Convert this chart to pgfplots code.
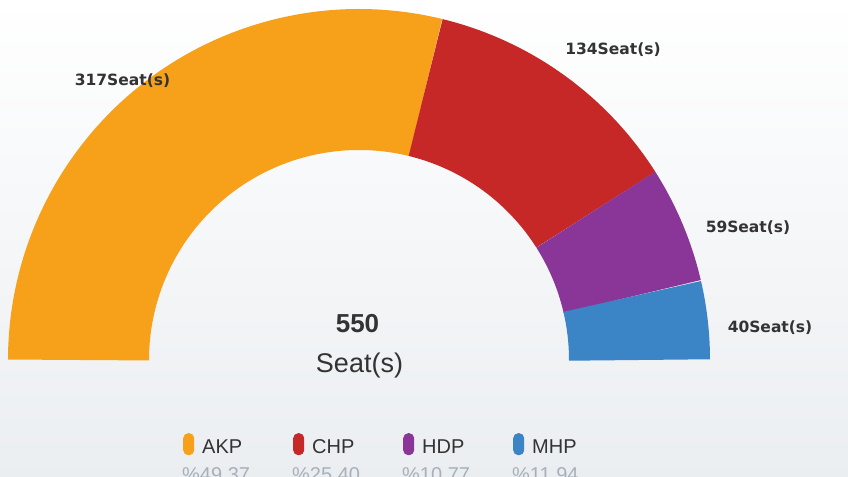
\documentclass[border=0pt]{standalone}
\usepackage{pgfplots}
\pgfplotsset{compat=1.18}
\usepackage{pgfplotstable}
\usepackage{fontspec}
\setmainfont{Liberation Sans}
\newfontfamily\lblfont{DejaVu Sans}
\definecolor{akp}{HTML}{F7A11A}
\definecolor{chp}{HTML}{C62828}
\definecolor{hdp}{HTML}{8A3699}
\definecolor{mhp}{HTML}{3B84C6}
\definecolor{txt}{HTML}{333333}
\definecolor{pct}{HTML}{A7B0BA}
\definecolor{bgbot}{HTML}{EBEEF1}

\pgfplotstableread{
party seats pct
AKP 317 49.37
CHP 134 25.40
HDP 59 10.77
MHP 40 11.94
}\parties

\begin{document}
\begin{tikzpicture}
\pgfplotstablegetelem{0}{seats}\of\parties \let\sA\pgfplotsretval
\pgfplotstablegetelem{1}{seats}\of\parties \let\sB\pgfplotsretval
\pgfplotstablegetelem{2}{seats}\of\parties \let\sC\pgfplotsretval
\pgfplotstablegetelem{3}{seats}\of\parties \let\sD\pgfplotsretval
\pgfmathsetmacro{\tot}{\sA+\sB+\sC+\sD}
\pgfmathsetmacro{\aA}{180-\sA/\tot*180}
\pgfmathsetmacro{\aB}{\aA-\sB/\tot*180}
\pgfmathsetmacro{\aC}{\aB-\sC/\tot*180}
\begin{axis}[name=ax, x=1bp, y=1bp,
  xmin=-359, xmax=489, ymin=-117, ymax=360,
  hide axis, clip=false,
  legend columns=4,
  legend style={at={(axis cs:-176,-73)}, anchor=north west, draw=none, fill=none,
    inner sep=0pt, column sep=0pt, nodes={inner sep=0pt},
    cells={anchor=base west}, font=\fontsize{20bp}{24bp}\selectfont\color{txt}},
  legend image code/.code={\path[draw=none, line width=0pt] (0bp,-2bp) (19bp,0bp);
    \path[draw=none, line width=0pt, fill, rounded corners=5bp] (0bp,-2bp) rectangle (11bp,20bp);},
]
\fill[top color=white, bottom color=bgbot] (rel axis cs:0,0) rectangle (rel axis cs:1,1);
\addplot[data cs=polar, domain=\aA:180, samples=150, line width=141bp, color=akp] ({x},{280.5});
\addlegendentry{\makebox[91bp][l]{AKP}}
\addplot[data cs=polar, domain=\aB:\aA, samples=80, line width=141bp, color=chp] ({x},{280.5});
\addlegendentry{\makebox[91bp][l]{CHP}}
\addplot[data cs=polar, domain=\aC:\aB, samples=50, line width=141bp, color=hdp] ({x},{280.5});
\addlegendentry{\makebox[91bp][l]{HDP}}
\addplot[data cs=polar, domain=0:\aC, samples=40, line width=141bp, color=mhp] ({x},{280.5});
\addlegendentry{\makebox[91bp][l]{MHP}}

\begin{scope}[font=\lblfont\bfseries\fontsize{15.5bp}{18bp}\selectfont, text=txt]
\node at (axis cs:-236.5,279) {317Seat(s)};
\node at (axis cs:254,310) {134Seat(s)};
\node at (axis cs:389,132) {59Seat(s)};
\node at (axis cs:411,32) {40Seat(s)};
\end{scope}
\node[anchor=base, text=txt, font=\bfseries\fontsize{26bp}{30bp}\selectfont] at (axis cs:-1.5,27) {550};
\node[anchor=base, text=txt, font=\fontsize{27bp}{30bp}\selectfont] at (axis cs:0.5,-13) {Seat(s)};
\begin{scope}[font=\fontsize{20bp}{24bp}\selectfont, text=pct]
\node[anchor=base west, inner sep=0pt] at (axis cs:-177,-121.5) {\%49.37};
\node[anchor=base west, inner sep=0pt] at (axis cs:-67,-121.5) {\%25.40};
\node[anchor=base west, inner sep=0pt] at (axis cs:43,-121.5) {\%10.77};
\node[anchor=base west, inner sep=0pt] at (axis cs:153,-121.5) {\%11.94};
\end{scope}
\end{axis}
\pgfresetboundingbox
\path (ax.south west) rectangle (ax.north east);
\end{tikzpicture}
\end{document}
